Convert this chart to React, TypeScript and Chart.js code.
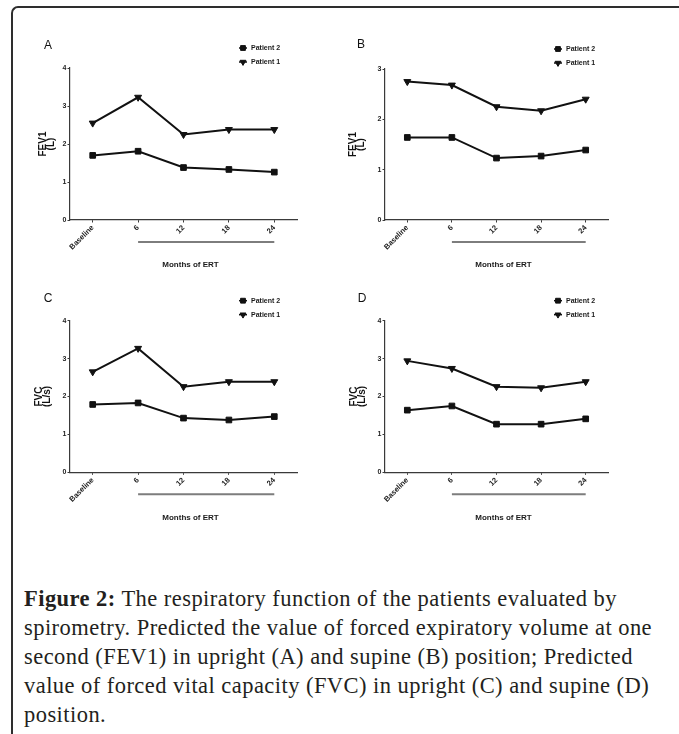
import React, { useEffect, useRef } from 'react';
import { Chart, registerables } from 'chart.js';
import { drawPoint } from 'chart.js/helpers';

Chart.register(...registerables);

// ---------- data ----------
const months = ['Baseline', '6', '12', '18', '24'];
const seriesNames = ['Patient 2', 'Patient 1'];
const fev1UprightP2 = [1.7, 1.81, 1.38, 1.33, 1.26];
const fev1UprightP1 = [2.55, 3.23, 2.25, 2.38, 2.38];
const fev1SupineP2 = [1.64, 1.64, 1.23, 1.27, 1.39];
const fev1SupineP1 = [2.75, 2.68, 2.25, 2.17, 2.4];
const fvcUprightP2 = [1.79, 1.83, 1.43, 1.38, 1.47];
const fvcUprightP1 = [2.65, 3.27, 2.26, 2.39, 2.39];
const fvcSupineP2 = [1.64, 1.75, 1.27, 1.27, 1.41];
const fvcSupineP1 = [2.94, 2.74, 2.26, 2.23, 2.39];
const fev1Title = ['FEV1', '(L)'];
const fvcTitle = ['FVC', '(L/s)'];
const xTitle = 'Months of ERT';

const SANS = '"Liberation Sans", Arial, Helvetica, sans-serif';
const INK = '#111111';

const decorPlugin = {
  id: 'decor',
  afterDraw(chart: any, _args: any, opts: any) {
    const ctx = chart.ctx;
    const { left, right, top, bottom } = chart.chartArea;
    const xs = chart.scales.x;
    ctx.save();
    // panel letter
    ctx.fillStyle = INK;
    ctx.font = `12px ${SANS}`;
    ctx.textAlign = 'center';
    ctx.textBaseline = 'middle';
    ctx.fillText(opts.letter, opts.letterX, opts.letterY);
    // bracket under months 6..24
    ctx.strokeStyle = '#7d7d7d';
    ctx.lineWidth = 2;
    ctx.beginPath();
    ctx.moveTo(xs.getPixelForValue(1), bottom + 22);
    ctx.lineTo(xs.getPixelForValue(4), bottom + 22);
    ctx.stroke();
    // x title
    ctx.fillStyle = '#1a1a1a';
    ctx.font = `bold 8px ${SANS}`;
    ctx.textAlign = 'center';
    ctx.fillText(xTitle, (left + right) / 2 + 7, bottom + 45);
    // legend
    chart.data.datasets.forEach((ds: any, i: number) => {
      const lx = right - opts.legendFromRight;
      const ly = top - 20 + i * 14;
      ctx.strokeStyle = INK;
      ctx.fillStyle = INK;
      ctx.lineWidth = 1.5;
      ctx.beginPath();
      ctx.moveTo(lx - 4, ly);
      ctx.lineTo(lx + 4, ly);
      ctx.stroke();
      ctx.lineWidth = 1;
      drawPoint(ctx, { pointStyle: ds.pointStyle, rotation: ds.pointRotation, radius: 3.4, borderWidth: 1 }, lx, ly);
      ctx.fillStyle = '#1a1a1a';
      ctx.font = `bold 7px ${SANS}`;
      ctx.textAlign = 'left';
      ctx.textBaseline = 'middle';
      ctx.fillText(ds.label, lx + 8, ly);
    });
    ctx.restore();
  },
};

type PanelProps = {
  p1: number[];
  p2: number[];
  yMax: number;
  yTitle: string[];
  letter: string;
  L: number; T: number; W: number; H: number;
  plotLeft: number; plotRight: number; plotTop: number; plotBottom: number;
  yTitleX: number; letterX: number; letterY: number; legendFromRight: number;
};

function Panel(props: PanelProps) {
  const ref = useRef<HTMLCanvasElement>(null);
  useEffect(() => {
    const { L, T, W, H, plotLeft, plotRight, plotTop, plotBottom } = props;
    const yAxisW = plotLeft - L;
    const xAxisH = T + H - plotBottom;
    const titleLH = 8;
    const axisColor = '#3a3a3a';
    const gridCommon = {
      display: true,
      drawOnChartArea: false,
      drawTicks: true,
      tickLength: 2.5,
      color: axisColor,
      lineWidth: 1,
    };
    const pointCommon = {
      borderColor: INK,
      backgroundColor: INK,
      borderWidth: 2,
      pointRadius: 4,
      pointBorderWidth: 1,
      pointBackgroundColor: INK,
      pointBorderColor: INK,
      tension: 0,
    };
    const chart = new Chart(ref.current as HTMLCanvasElement, {
      type: 'line',
      data: {
        labels: months,
        datasets: [
          { label: seriesNames[0], data: props.p2, pointStyle: 'rect', pointRotation: 0, ...pointCommon },
          { label: seriesNames[1], data: props.p1, pointStyle: 'triangle', pointRotation: 180, ...pointCommon },
        ],
      },
      options: {
        responsive: false,
        animation: false,
        devicePixelRatio: 1,
        layout: {
          padding: { left: 0, top: plotTop - T, right: L + W - plotRight, bottom: 0 },
        },
        plugins: {
          legend: { display: false },
          tooltip: { enabled: false },
          decor: {
            letter: props.letter,
            letterX: props.letterX - L,
            letterY: props.letterY - T,
            legendFromRight: props.legendFromRight,
          },
        } as any,
        scales: {
          x: {
            type: 'category',
            offset: true,
            grid: { ...gridCommon, offset: false },
            border: { display: true, color: axisColor, width: 1.2 },
            ticks: {
              autoSkip: false,
              maxRotation: 45,
              minRotation: 45,
              padding: 1,
              color: '#222',
              font: { family: SANS, size: 7.5, weight: 'bold' },
            },
            afterFit: (s: any) => {
              s.height = xAxisH;
            },
          },
          y: {
            min: 0,
            max: props.yMax,
            grid: gridCommon,
            border: { display: true, color: axisColor, width: 1.2 },
            ticks: {
              stepSize: 1,
              padding: 1,
              color: '#222',
              font: { family: SANS, size: 7, weight: 'bold' },
            },
            title: {
              display: true,
              text: props.yTitle,
              color: INK,
              font: { family: SANS, size: 10, weight: 'bold', lineHeight: `${titleLH}px` },
              padding: { top: props.yTitleX - L - titleLH / 2, bottom: 0 },
            },
            afterFit: (s: any) => {
              s.width = yAxisW;
            },
          },
        } as any,
      },
      plugins: [decorPlugin as any],
    });
    return () => chart.destroy();
  }, []);
  return (
    <canvas
      ref={ref}
      width={props.W}
      height={props.H}
      style={{ position: 'absolute', left: props.L, top: props.T, width: props.W, height: props.H }}
    />
  );
}

export default function App() {
  useEffect(() => {
    document.documentElement.style.overflow = 'hidden';
    document.body.style.background = '#ffffff';
  }, []);
  const capLine: React.CSSProperties = { whiteSpace: 'nowrap' };
  return (
    <div>
      <div
        style={{
          position: 'absolute',
          left: 11,
          top: 6,
          width: 668,
          height: 728,
          boxSizing: 'border-box',
          borderTop: '2px solid #2e2e2e',
          borderLeft: '2px solid #2e2e2e',
          borderTopLeftRadius: 7,
        }}
      />
      <Panel
        p1={fev1UprightP1} p2={fev1UprightP2} yMax={4} yTitle={fev1Title} letter="A"
        L={14} T={20} W={320} H={262}
        plotLeft={70} plotRight={297} plotTop={68} plotBottom={220}
        yTitleX={43} letterX={48} letterY={46} legendFromRight={54}
      />
      <Panel
        p1={fev1SupineP1} p2={fev1SupineP2} yMax={3} yTitle={fev1Title} letter="B"
        L={336} T={20} W={334} H={262}
        plotLeft={385} plotRight={608} plotTop={69} plotBottom={220}
        yTitleX={353} letterX={361} letterY={45} legendFromRight={50}
      />
      <Panel
        p1={fvcUprightP1} p2={fvcUprightP2} yMax={4} yTitle={fvcTitle} letter="C"
        L={14} T={282} W={320} H={250}
        plotLeft={70} plotRight={297} plotTop={320.7} plotBottom={472.3}
        yTitleX={39} letterX={48} letterY={299} legendFromRight={54}
      />
      <Panel
        p1={fvcSupineP1} p2={fvcSupineP2} yMax={4} yTitle={fvcTitle} letter="D"
        L={336} T={282} W={334} H={250}
        plotLeft={385} plotRight={608} plotTop={320.7} plotBottom={472.3}
        yTitleX={354} letterX={362} letterY={299} legendFromRight={50}
      />
      <div
        style={{
          position: 'absolute',
          left: 24,
          top: 584,
          fontFamily: '"Liberation Serif", "Times New Roman", serif',
          fontSize: 22.5,
          lineHeight: '29px',
          letterSpacing: '0.45px',
          color: '#231f20',
        }}
      >
        <div style={capLine}>
          <b>Figure 2:</b> The respiratory function of the patients evaluated by
        </div>
        <div style={capLine}>spirometry. Predicted the value of forced expiratory volume at one</div>
        <div style={capLine}>second (FEV1) in upright (A) and supine (B) position; Predicted</div>
        <div style={capLine}>value of forced vital capacity (FVC) in upright (C) and supine (D)</div>
        <div style={capLine}>position.</div>
      </div>
    </div>
  );
}
